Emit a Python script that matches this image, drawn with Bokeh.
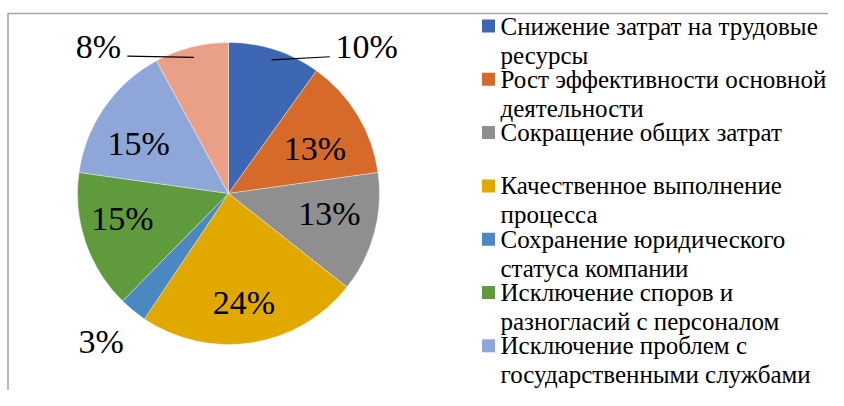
import math
from bokeh.plotting import figure
from bokeh.models import Range1d
from bokeh.core.properties import value
from bokeh.embed import file_html
from bokeh.resources import INLINE

# ---------------- data ----------------
shares = [10, 13, 13, 24, 3, 15, 15, 8]
share_labels = ["10%", "13%", "13%", "24%", "3%", "15%", "15%", "8%"]
slice_colors = ["#3D66B3", "#D66A2A", "#8F8F8F", "#E1A800",
                "#4B87C1", "#5F9A3D", "#8FA6D8", "#EAA087"]
# legend entries visible in the picture (wrapped as in the original)
legend_lines = [
    ["Снижение затрат на трудовые", "ресурсы"],
    ["Рост эффективности основной", "деятельности"],
    ["Сокращение общих затрат"],
    ["Качественное выполнение", "процесса"],
    ["Сохранение юридического", "статуса компании"],
    ["Исключение споров и", "разногласий с персоналом"],
    ["Исключение проблем с", "государственными службами"],
]

# ---------------- layout / style ----------------
W, H = 828, 390
FONT_NAME = "Liberation Serif"

def py(y):  # picture y (from top) -> data y
    return H - y

cx, cy, R = 228, py(193), 151
# label placement: radius factor along the slice mid-angle + pixel nudge (dx, dy downwards)
label_rf = [1.0, 0.70, 0.70, 0.70, 1.0, 0.70, 0.70, 1.0]
label_nudge = [(92, -3), (-4, 10), (-1, -8), (-1, 5), (-32, 31), (-6, -9), (-3, 10), (-93, -1)]
leader = [True, False, False, False, False, False, False, True]

p = figure(width=W, height=H, output_backend="svg", toolbar_location=None,
           x_range=Range1d(0, W), y_range=Range1d(0, H), min_border=0)
p.axis.visible = False
p.grid.visible = False
p.outline_line_alpha = 0

# chart area frame (left and top edges visible)
p.line([7.5, 7.5], [py(13), 0], line_color="#A6A6A6", line_width=1.5)
p.line([7, W], [py(13), py(13)], line_color="#A6A6A6", line_width=1.5)

# wedges
total = float(sum(shares))
starts, ends, mids = [], [], []
cum = 0.0
for v in shares:
    a0 = math.pi / 2 - 2 * math.pi * cum / total
    cum += v
    a1 = math.pi / 2 - 2 * math.pi * cum / total
    starts.append(a0)
    ends.append(a1)
    mids.append((a0 + a1) / 2)

p.wedge(x=[cx] * len(shares), y=[cy] * len(shares), radius=R,
        start_angle=starts, end_angle=ends, direction="clock",
        fill_color=slice_colors, line_color="white", line_width=0.6, line_alpha=0.6)

# data labels (one text glyph per label)
lx, ly = [], []
for m, rf, (dx, dy) in zip(mids, label_rf, label_nudge):
    lx.append(cx + rf * R * math.cos(m) + dx)
    ly.append(cy + rf * R * math.sin(m) - dy)
for i in range(len(share_labels)):
    p.text(x=[lx[i]], y=[ly[i]], text=[share_labels[i]], text_font=value(FONT_NAME),
           text_font_size="34px", text_align="center", text_baseline="middle",
           text_color="black")

# leader lines
for i, m in enumerate(mids):
    if not leader[i]:
        continue
    sx = cx + 0.93 * R * math.cos(m)
    sy = cy + 0.93 * R * math.sin(m)
    half_w = 10 * len(share_labels[i])
    if lx[i] > cx:
        ex = lx[i] - half_w - 7
    else:
        ex = lx[i] + half_w + 9
    ey = ly[i] - 10
    p.line([sx, ex], [sy, ey], line_color="black", line_width=1.2)

# legend (drawn manually)
leg_x_sq = 488
leg_x_txt = 500
base0, pitch, line_gap = 34, 53.3, 29
sq_x, sq_y, sq_c = [], [], []
for i, lines in enumerate(legend_lines):
    b = base0 + i * pitch
    sq_x.append(leg_x_sq)
    sq_y.append(py(b - 8.5))
    sq_c.append(slice_colors[i])
    for j, t in enumerate(lines):
        p.text(x=[leg_x_txt], y=[py(b + j * line_gap - 8.5)], text=[t],
               text_font=value(FONT_NAME), text_font_size="25px",
               text_align="left", text_baseline="middle", text_color="black")
p.rect(x=sq_x, y=sq_y, width=13, height=13, fill_color=sq_c, line_color=None)

open("out.html", "w").write(file_html(p, INLINE))
